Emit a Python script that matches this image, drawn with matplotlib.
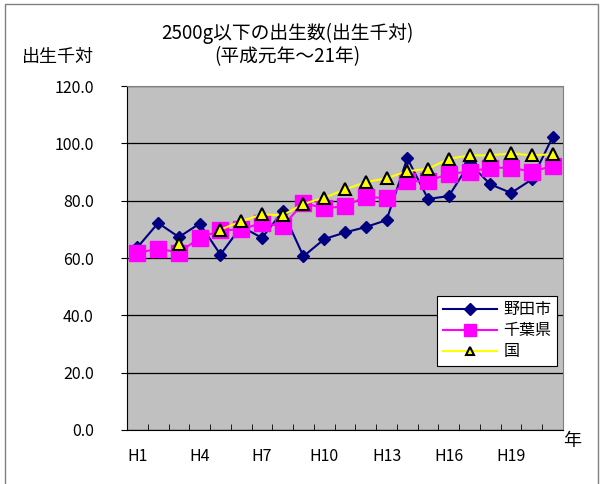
import matplotlib.pyplot as plt
import numpy as np
from matplotlib.patches import Rectangle

plt.rcParams['font.family'] = ['Noto Sans CJK JP', 'DejaVu Sans']

# H1..H21
years = ['H%d' % i for i in range(1, 22)]
noda = [63.7, 72.2, 67.3, 72.0, 61.2, 71.0, 67.0, 76.3, 60.6, 66.6, 68.9,
        70.8, 73.2, 94.8, 80.6, 81.6, 93.0, 85.7, 82.7, 87.4, 102.2]
chiba = [61.7, 63.3, 61.9, 67.0, 69.6, 70.0, 72.2, 71.1, 79.2, 77.3, 78.1,
         81.4, 80.8, 86.8, 86.8, 89.4, 90.1, 91.5, 91.5, 90.1, 92.1]
kuni = [np.nan, np.nan, 64.9, np.nan, 69.9, 72.8, 75.2, 74.9, 78.9, 81.0, 83.9,
        86.5, 87.8, 90.3, 91.1, 94.6, 95.8, 95.8, 96.5, 95.8, 96.2]
xlabels = ['H1', 'H4', 'H7', 'H10', 'H13', 'H16', 'H19']

fig = plt.figure(figsize=(6.08, 4.84), dpi=100)
ax = fig.add_axes([127 / 608, 1 - 430 / 484, 436 / 608, 344 / 484])
ax.set_facecolor('#C0C0C0')

x = np.arange(len(years))
ax.plot(x, noda, color='#000080', lw=1.5, marker='D', ms=6.5, label='野田市', zorder=3)
ax.plot(x, chiba, color='#FF00FF', lw=1.5, marker='s', ms=11, label='千葉県', zorder=4)
ax.plot(x, kuni, color='#FFFF00', lw=1.5, marker='^', ms=9, mfc='#FFFF00',
        mec='black', mew=1.5, label='国', zorder=5)

ax.set_xlim(-0.5, len(years) - 0.5)
ax.set_ylim(0, 120)
ax.set_yticks(np.arange(0, 121, 20))
ax.set_yticklabels(['%.1f' % v for v in np.arange(0, 121, 20)], fontsize=11.5)
ax.set_xticks([years.index(l) for l in xlabels])
ax.set_xticklabels(xlabels, fontsize=11.5)
ax.set_xticks(np.arange(-0.5, len(years), 1), minor=True)
ax.tick_params(axis='x', which='major', length=0, pad=13)
ax.tick_params(axis='x', which='minor', direction='in', length=4, color='black')
ax.tick_params(axis='y', length=4, color='black', pad=20)
for t in ax.get_yticklabels():
    t.set_horizontalalignment('right')
ax.grid(axis='y', color='black', lw=0.9)
ax.set_axisbelow(True)
for s in ['top', 'right']:
    ax.spines[s].set_color('#808080')
for s in ['left', 'bottom']:
    ax.spines[s].set_color('black')

leg = ax.legend(loc='lower right', bbox_to_anchor=(1.0 - 6 / 436, 64 / 344), fontsize=11.5,
                fancybox=False, framealpha=1, edgecolor='black', borderpad=0.35,
                labelspacing=0.25, handlelength=3.4, handletextpad=0.4,
                borderaxespad=0)
leg.get_frame().set_linewidth(0.8)
for h, ms in zip(leg.legend_handles, [6, 8, 6]):
    h.set_markersize(ms)

fig.text(287 / 608, 1 - 33 / 484, '2500g以下の出生数(出生千対)', ha='center', va='center', fontsize=13.5)
fig.text(287 / 608, 1 - 57 / 484, '(平成元年～21年)', ha='center', va='center', fontsize=13.5)
fig.text(58 / 608, 1 - 57 / 484, '出生千対', ha='center', va='center', fontsize=13)
fig.text(572 / 608, 1 - 441 / 484, '年', ha='center', va='center', fontsize=13)

fig.patches.append(Rectangle((5 / 608, -0.01), 593 / 608, 1 - 4 / 484 + 0.01,
                             transform=fig.transFigure, fill=False,
                             edgecolor='#808080', lw=1))

fig.savefig('out.png', dpi=100)
